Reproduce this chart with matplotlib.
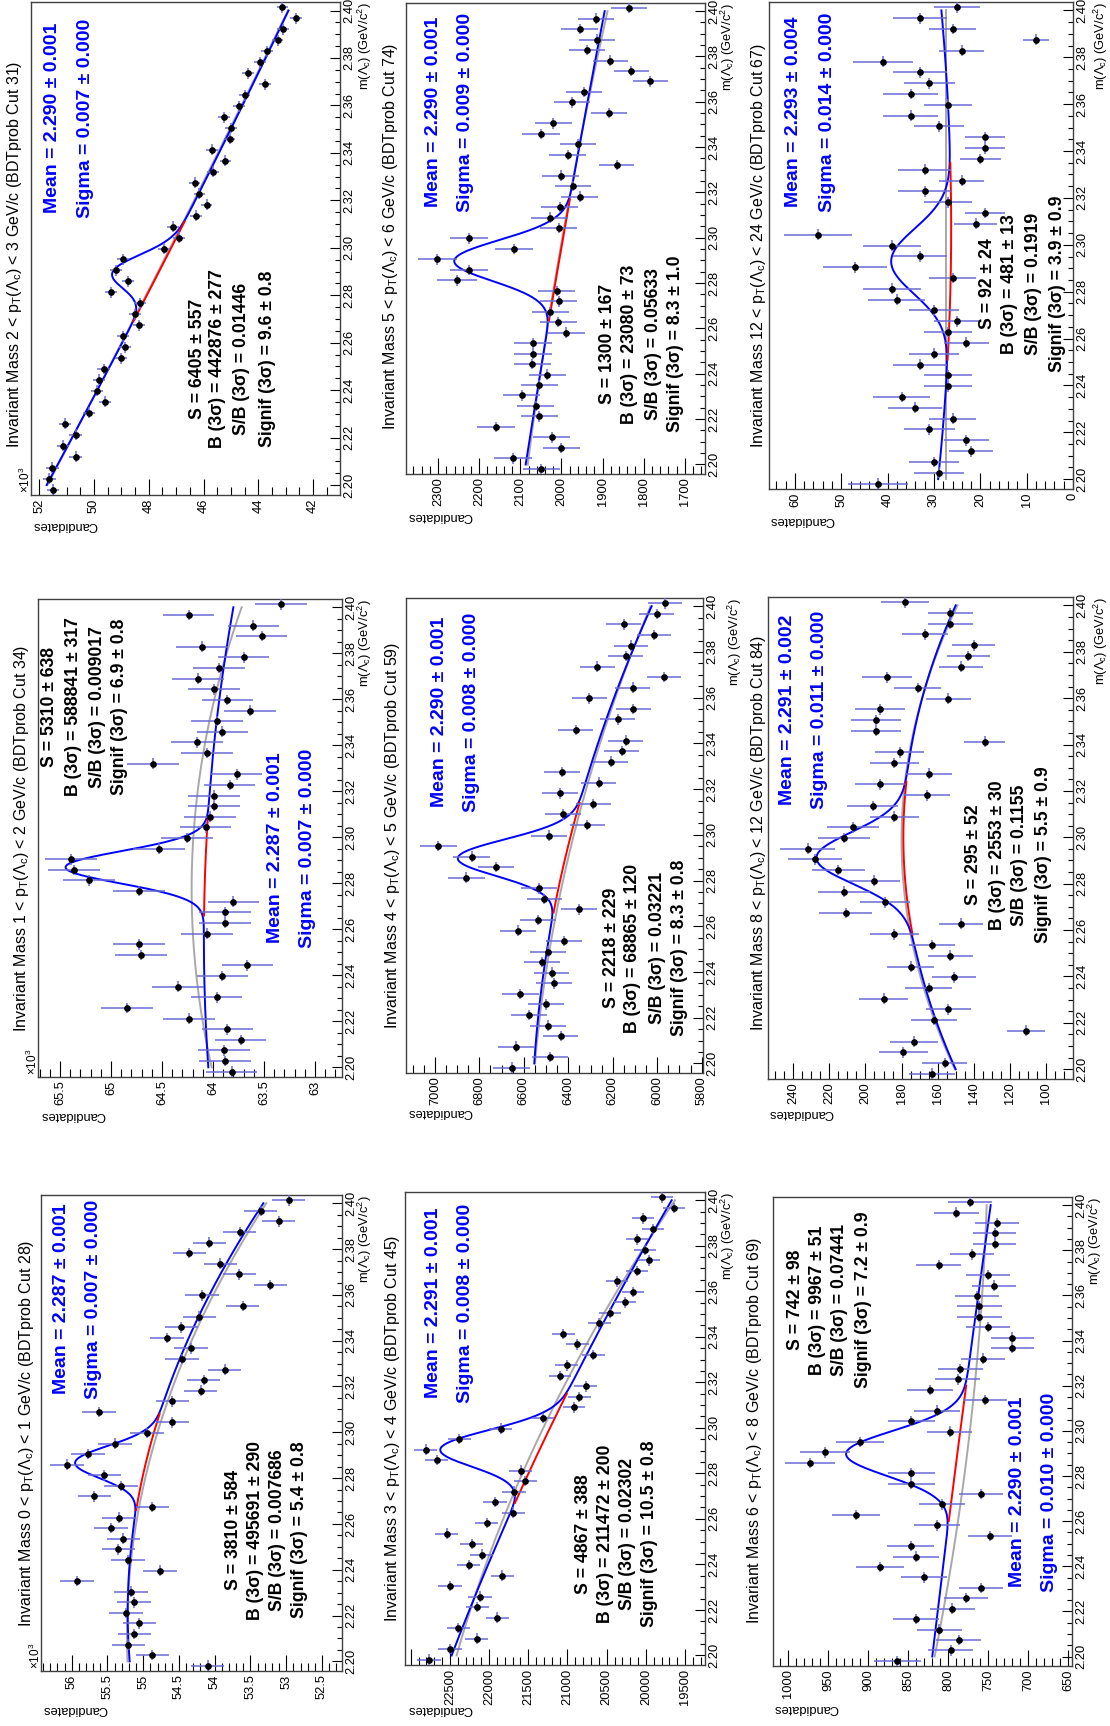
import numpy as np
import matplotlib
matplotlib.use("Agg")
import matplotlib.pyplot as plt
from matplotlib.ticker import MultipleLocator, FuncFormatter

plt.rcParams['font.family'] = ['Liberation Sans', 'DejaVu Sans']
plt.rcParams['mathtext.fontset'] = 'custom'
plt.rcParams['mathtext.rm'] = 'Liberation Sans'
plt.rcParams['mathtext.it'] = 'Liberation Sans:italic'
plt.rcParams['mathtext.bf'] = 'Liberation Sans:bold'

W, H = 1110, 1726

# ---------------- data ----------------
mass_lo, mass_hi, n_bins = 2.1958, 2.4036, 45
mass_ticks = [2.20, 2.22, 2.24, 2.26, 2.28, 2.30, 2.32, 2.34, 2.36, 2.38, 2.40]
fit_anchor_mass = [2.20, 2.30, 2.40]

counts_pt0_1 = [54101, 54871, 55207, 55123, 55053, 55239, 55127, 55169, 55930, 54763,
                55216, 55347, 55277, 55454, 55337, 54871, 55683, 55309, 55543, 56070,
                55776, 55393, 54950, 54591, 55622, 54591, 54199, 54157, 53863, 54460,
                54334, 54670, 54469, 54217, 53611, 54180, 53223, 53657, 53923, 54357,
                54077, 53653, 53107, 53354, 52967]
counts_pt1_2 = [63817, 63882, 63892, 63729, 63859, 64235, 64840, 63964, 64346, 63908,
                63663, 64706, 64729, 64056, 63882, 63882, 63801, 64722, 65212, 65363,
                65395, 64533, 64258, 64072, 64029, 63990, 63990, 63837, 63768, 64585,
                64056, 64154, 63908, 63958, 63637, 63859, 63990, 64150, 63941, 63699,
                64105, 63523, 63605, 64239, 63333]
counts_pt2_3 = [51490, 51630, 51520, 50670, 51140, 50670, 51070, 50170, 49610, 49900,
                49810, 49650, 49010, 48870, 48950, 48370, 48490, 48320, 49370, 48770,
                49210, 48950, 47430, 46890, 47120, 46280, 45890, 46150, 46330, 45660,
                45200, 45700, 45050, 44990, 45260, 44700, 44500, 43750, 44380, 43940,
                43690, 43300, 43100, 42630, 43120]
counts_pt3_4 = [22764, 22500, 22160, 22394, 21896, 22151, 22117, 22500, 21832, 22262,
                22096, 22223, 22543, 22032, 21692, 21926, 21683, 21538, 21598, 22670,
                22811, 22381, 21853, 21313, 20917, 20849, 20768, 21096, 21011, 20670,
                20875, 21053, 20594, 20457, 20266, 20160, 20372, 20109, 19955, 20011,
                20109, 19913, 20032, 19636, 19794]
counts_pt4_5 = [6655, 6483, 6636, 6435, 6490, 6576, 6501, 6615, 6465, 6475,
                6520, 6493, 6420, 6627, 6535, 6351, 6507, 6531, 6858, 6726,
                6835, 6985, 6487, 6315, 6423, 6288, 6438, 6264, 6427, 6210,
                6160, 6141, 6367, 6178, 6108, 6306, 6111, 5970, 6270, 6141,
                6118, 6015, 6150, 6003, 5965]
counts_pt5_6 = [2049, 2118, 2000, 2024, 2160, 2054, 2063, 2097, 2054, 2035,
                2071, 2069, 2069, 1988, 2008, 2027, 2007, 2012, 2254, 2225,
                2302, 2116, 2225, 2007, 2028, 2004, 1956, 1972, 2002, 1866,
                1985, 1960, 2050, 2020, 1884, 1974, 1945, 1784, 1830, 1881,
                1938, 1913, 1956, 1917, 1836]
counts_pt6_8 = [864, 797, 787, 811, 840, 795, 778, 759, 830, 885,
                840, 847, 748, 814, 915, 808, 759, 846, 846, 973,
                954, 910, 798, 846, 814, 754, 823, 788, 785, 756,
                720, 720, 750, 761, 761, 764, 743, 750, 812, 770,
                742, 742, 739, 790, 773]
counts_pt8_12 = [163, 156, 179, 173, 111, 162, 154, 190, 165, 151,
                 175, 153, 163, 184, 147, 211, 189, 212, 195, 215,
                 228, 232, 212, 207, 184, 196, 166, 192, 165, 184,
                 181, 134, 194, 194, 192, 154, 171, 188, 147, 143,
                 140, 167, 153, 153, 178]
counts_pt12_24 = [42, 29, 30, 22, 23, 31, 26, 34, 37, 27,
                  27, 33, 30, 23, 27, 25, 30, 38, 39, 26,
                  47, 33, 39, 55, 21, 19, 27, 32, 24, 32,
                  20, 19, 19, 29, 35, 27, 35, 31, 33, 41,
                  24, 8, 26, 33, 25]

pt_bins = ["2 < p$_{\\mathrm{T}}$(Λ$_{\\mathrm{c}}$) < 3", "5 < p$_{\\mathrm{T}}$(Λ$_{\\mathrm{c}}$) < 6",
           "12 < p$_{\\mathrm{T}}$(Λ$_{\\mathrm{c}}$) < 24", "1 < p$_{\\mathrm{T}}$(Λ$_{\\mathrm{c}}$) < 2",
           "4 < p$_{\\mathrm{T}}$(Λ$_{\\mathrm{c}}$) < 5", "8 < p$_{\\mathrm{T}}$(Λ$_{\\mathrm{c}}$) < 12",
           "0 < p$_{\\mathrm{T}}$(Λ$_{\\mathrm{c}}$) < 1", "3 < p$_{\\mathrm{T}}$(Λ$_{\\mathrm{c}}$) < 4",
           "6 < p$_{\\mathrm{T}}$(Λ$_{\\mathrm{c}}$) < 8"]
bdt_cuts = [31, 74, 67, 34, 59, 84, 28, 45, 69]
panel_counts = [counts_pt2_3, counts_pt5_6, counts_pt12_24, counts_pt1_2, counts_pt4_5,
                counts_pt8_12, counts_pt0_1, counts_pt3_4, counts_pt6_8]

mean_text = ["2.290 ± 0.001", "2.290 ± 0.001", "2.293 ± 0.004", "2.287 ± 0.001", "2.290 ± 0.001",
             "2.291 ± 0.002", "2.287 ± 0.001", "2.291 ± 0.001", "2.290 ± 0.001"]
sigma_text = ["0.007 ± 0.000", "0.009 ± 0.000", "0.014 ± 0.000", "0.007 ± 0.000", "0.008 ± 0.000",
              "0.011 ± 0.000", "0.007 ± 0.000", "0.008 ± 0.000", "0.010 ± 0.000"]
s_text = ["6405 ± 557", "1300 ± 167", "92 ± 24", "5310 ± 638", "2218 ± 229",
          "295 ± 52", "3810 ± 584", "4867 ± 388", "742 ± 98"]
b_text = ["442876 ± 277", "23080 ± 73", "481 ± 13", "588841 ± 317", "68865 ± 120",
          "2553 ± 30", "495691 ± 290", "211472 ± 200", "9967 ± 51"]
sb_text = ["0.01446", "0.05633", "0.1919", "0.009017", "0.03221",
           "0.1155", "0.007686", "0.02302", "0.07441"]
signif_text = ["9.6 ± 0.8", "8.3 ± 1.0", "3.9 ± 0.9", "6.9 ± 0.8", "8.3 ± 0.8",
               "5.5 ± 0.9", "5.4 ± 0.8", "10.5 ± 0.8", "7.2 ± 0.9"]

fit_mean = [2.290, 2.290, 2.293, 2.287, 2.290, 2.291, 2.287, 2.291, 2.290]
fit_sigma = [0.007, 0.009, 0.014, 0.007, 0.008, 0.011, 0.007, 0.008, 0.010]
fit_amp = [1690, 255, 12.9, 1370, 483, 48.4, 990, 1271, 139]
bkg_at_anchor = [[51730, 47180, 42900], [2087, 1996, 1895], [29.1, 26.3, 28.4],
                 [64046, 64062, 63800], [6553, 6388, 6025], [150, 179, 150],
                 [55190, 54850, 53320], [22479, 21223, 19670], [820, 785, 747]]
side_at_anchor = [[51700, 47220, 42920], [2082, 1998, 1888], [27.3, 27.3, 27.3],
                  [64013, 64193, 63719], [6550, 6375, 6030], [150.5, 180, 149],
                  [55220, 54800, 53280], [22415, 21309, 19628], [817, 773, 752]]

cand_range = [(52300, 41020), (2378, 1651), (65.6, 0), (65716, 62735), (7130, 5794),
              (254, 85), (56430, 52220), (23074, 19245), (1019, 645.4)]
cand_major = [2000, 100, 10, 500, 200, 20, 500, 500, 50]
cand_minor = [500, 20, 2, 100, 50, 5, 100, 100, 10]
cand_scale = [1000, 1, 1, 1000, 1, 1, 1000, 1, 1]
cand_label_max = [1e9, 1e9, 1e9, 1e9, 1e9, 1e9, 1e9, 22500, 1e9]

# ---------------- layout (pixel positions in the 1110x1726 image) ----------------
frames = [(31, 2, 340, 495), (406, 3, 705, 474), (769, 2, 1073, 489),
          (38, 599, 342, 1077), (406, 598, 703, 1073), (768, 597, 1073, 1079),
          (41, 1195, 342, 1671), (405, 1192, 705, 1665), (773, 1197, 1072, 1666)]
title_pos = [(15, 448), (390, 430), (758, 448), (22, 1032), (393, 1029), (758, 1031),
             (27, 1627), (393, 1622), (755, 1624)]
meansig_pos = [(53, 85, 118), (433, 465, 112), (793, 827, 112), (275, 307, 848), (440, 472, 712),
               (787, 820, 710), (62, 93, 1299), (433, 465, 1303), (1018, 1050, 1492)]
stats_pos = [((197, 218, 242, 267), 359), ((608, 630, 653, 675), 344),
             ((988, 1010, 1033, 1058), 284), ((50, 73, 97, 120), 707),
             ((612, 633, 657, 680), 948), ((973, 997, 1020, 1043), 855),
             ((233, 255, 278, 300), 1530), ((583, 605, 628, 650), 1534),
             ((795, 817, 840, 863), 1300)]
cand_label_pos = [(32, 525), (407, 516), (769, 520), (40, 1115), (407, 1112), (768, 1113),
                  (42, 1709), (407, 1709), (773, 1708)]
mass_label_x = [365, 728, 1101, 365, 735, 1101, 365, 728, 1095]

fig = plt.figure(figsize=(W / 100, H / 100), dpi=100)


def ftext(x, y, s, **kw):
    fig.text(x / W, 1 - y / H, s, transform=fig.transFigure, **kw)


bin_edges = np.linspace(mass_lo, mass_hi, n_bins + 1)
mass_centers = 0.5 * (bin_edges[:-1] + bin_edges[1:])
half_bin = 0.5 * (bin_edges[1] - bin_edges[0])
m_curve = np.linspace(2.20, 2.40, 600)

for k in range(9):
    x0, y0, x1, y1 = frames[k]
    ax = fig.add_axes([x0 / W, 1 - y1 / H, (x1 - x0) / W, (y1 - y0) / H])
    counts = np.array(panel_counts[k], dtype=float)

    bkg_c = np.polyfit(fit_anchor_mass, bkg_at_anchor[k], 2)
    side_c = np.polyfit(fit_anchor_mass, side_at_anchor[k], 2)
    mu, sg = fit_mean[k], fit_sigma[k]
    total = np.polyval(bkg_c, m_curve) + fit_amp[k] * np.exp(-0.5 * ((m_curve - mu) / sg) ** 2)
    m_red = np.linspace(mu - 3 * sg, mu + 3 * sg, 200)

    ax.plot(np.polyval(side_c, m_curve), m_curve, color='#a8a8a8', lw=1.4, zorder=2)
    ax.plot(total, m_curve, color='#0000ff', lw=1.4, zorder=3)
    ax.plot(np.polyval(bkg_c, m_red), m_red, color='#ff0000', lw=1.4, zorder=4)
    ax.errorbar(counts, mass_centers, xerr=np.sqrt(counts), yerr=half_bin, fmt='o',
                color='black', ms=3.8, ecolor='#6b6bd6', elinewidth=1.1, capsize=0, zorder=5)

    ax.set_xlim(*cand_range[k])
    ax.set_ylim(mass_lo, mass_hi)
    sc = cand_scale[k]
    lmax = cand_label_max[k]
    ax.xaxis.set_major_locator(MultipleLocator(cand_major[k]))
    ax.xaxis.set_minor_locator(MultipleLocator(cand_minor[k]))
    ax.xaxis.set_major_formatter(FuncFormatter(
        lambda v, p, sc=sc, lmax=lmax: "" if v > lmax + 1e-6 else f"{round(v / sc, 3):g}"))
    ax.set_yticks(mass_ticks)
    ax.yaxis.set_minor_locator(MultipleLocator(0.005))
    ax.yaxis.set_major_formatter(FuncFormatter(lambda v, p: f"{v:.2f}"))
    ax.xaxis.set_ticks_position('bottom')
    ax.yaxis.set_ticks_position('right')
    ax.tick_params(axis='x', which='major', direction='in', length=11.5, width=0.8,
                   labelsize=9.3, labelrotation=90, pad=2.5)
    ax.tick_params(axis='x', which='minor', direction='in', length=5.8, width=0.8)
    ax.tick_params(axis='y', which='major', direction='in', length=7.2, width=0.8,
                   labelsize=9.3, labelrotation=90, pad=2.5)
    ax.tick_params(axis='y', which='minor', direction='in', length=3.6, width=0.8)
    plt.setp(ax.get_yticklabels(), va='center', ha='left')
    for sp in ax.spines.values():
        sp.set_color('#404040')
        sp.set_linewidth(1.0)

    # texts
    tx, ty = title_pos[k]
    ftext(tx, ty, f"Invariant Mass {pt_bins[k]} GeV/c (BDTprob Cut {bdt_cuts[k]})",
          rotation=90, ha='center', va='bottom', fontsize=11.5)
    mx, sx, my = meansig_pos[k]
    ftext(mx, my, f"Mean = {mean_text[k]}", rotation=90, ha='center', va='center',
          fontsize=14, fontweight='bold', color='#0000ff')
    ftext(sx, my, f"Sigma = {sigma_text[k]}", rotation=90, ha='center', va='center',
          fontsize=14, fontweight='bold', color='#0000ff')
    xs, sy = stats_pos[k]
    lines = [f"S = {s_text[k]}", f"B (3σ) = {b_text[k]}", f"S/B (3σ) = {sb_text[k]}",
             f"Signif (3σ) = {signif_text[k]}"]
    for lx, line in zip(xs, lines):
        ftext(lx, sy, line, rotation=90, ha='center', va='center', fontsize=12.7,
              fontweight='bold', color='black')
    cx, cy = cand_label_pos[k]
    ftext(cx, cy, "Candidates", rotation=180, ha='left', va='center', fontsize=9.3)
    ftext(mass_label_x[k], y0, "m(Λ$_{\\mathrm{c}}$) (GeV/c$^{\\mathrm{2}}$)", rotation=90,
          ha='center', va='top', fontsize=9.3)
    if sc == 1000:
        ftext(x0 - 6, y1 - 2, "×10$^{\\mathrm{3}}$", rotation=90, ha='center', va='bottom',
              fontsize=8.5)

fig.savefig("out.png", dpi=100)
